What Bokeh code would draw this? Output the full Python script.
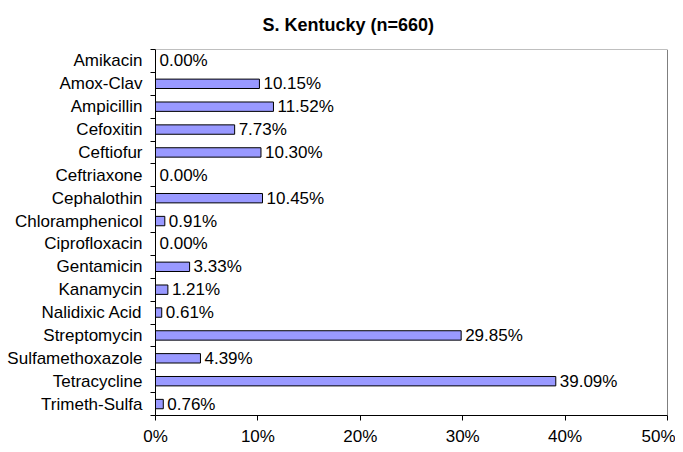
from bokeh.plotting import figure
from bokeh.models import Range1d, FixedTicker, PrintfTickFormatter, Span, ColumnDataSource
from bokeh.core.properties import value
from bokeh.embed import file_html
from bokeh.resources import INLINE

drugs = ["Amikacin", "Amox-Clav", "Ampicillin", "Cefoxitin", "Ceftiofur", "Ceftriaxone",
         "Cephalothin", "Chloramphenicol", "Ciprofloxacin", "Gentamicin", "Kanamycin",
         "Nalidixic Acid", "Streptomycin", "Sulfamethoxazole", "Tetracycline", "Trimeth-Sulfa"]
pct = [0.00, 10.15, 11.52, 7.73, 10.30, 0.00, 10.45, 0.91, 0.00, 3.33, 1.21, 0.61,
       29.85, 4.39, 39.09, 0.76]
x_ticks = [0, 10, 20, 30, 40, 50]
title_text = "S. Kentucky (n=660)"

FONT = "Liberation Sans"
FS = "17px"
n = len(drugs)
idx = list(range(n))
src = ColumnDataSource(dict(y=idx, v=pct, lab=["%.2f%%" % v for v in pct]))

p = figure(width=675, height=448, output_backend="svg", toolbar_location=None,
           x_range=Range1d(0, 50), y_range=Range1d(n - 0.5, -0.5),
           min_border_left=155, min_border_right=8, min_border_top=49, min_border_bottom=31,
           title=title_text)
p.outline_line_color = None
p.xgrid.visible = False
p.ygrid.visible = False
p.background_fill_color = "white"
p.border_fill_color = "white"

p.title.text_font = FONT
p.title.text_font_size = "18px"
p.title.text_font_style = "bold"
p.title.align = "left"
p.title.offset = 107
p.title.vertical_align = "top"
p.title.standoff = 26
p.title.text_color = "black"

p.hbar(y="y", left=0, right="v", height=0.41, source=src,
       fill_color="#9999FF", line_color="black", line_width=1)
p.text(x="v", y="y", text="lab", source=src, x_offset=4,
       text_baseline="middle", text_align="left",
       text_font=value(FONT), text_font_size=FS, text_color="black")

# x axis
xa = p.xaxis[0]
xa.ticker = FixedTicker(ticks=x_ticks, minor_ticks=[])
xa.formatter = PrintfTickFormatter(format="%d%%")
xa.major_tick_out = 5
xa.major_tick_in = 0
xa.minor_tick_out = 0
xa.minor_tick_in = 0
xa.major_label_standoff = 6
xa.major_label_text_font = FONT
xa.major_label_text_font_size = FS
xa.major_label_text_color = "black"
xa.axis_line_color = "black"
xa.major_tick_line_color = "black"

# y axis
ya = p.yaxis[0]
ya.ticker = FixedTicker(ticks=idx, minor_ticks=[i + 0.5 for i in range(-1, n)])
ya.major_label_overrides = {i: d for i, d in zip(idx, drugs)}
ya.major_tick_out = 0
ya.major_tick_in = 0
ya.minor_tick_out = 5
ya.minor_tick_in = 0
ya.minor_tick_line_color = "black"
ya.major_label_standoff = 8
ya.major_label_text_font = FONT
ya.major_label_text_font_size = FS
ya.major_label_text_color = "black"
ya.axis_line_color = "black"

p.add_layout(Span(location=50, dimension="height", line_color="black", line_width=1))
p.add_layout(Span(location=-0.5, dimension="width", line_color="#808080", line_width=1))

open("out.html", "w").write(file_html(p, INLINE))
